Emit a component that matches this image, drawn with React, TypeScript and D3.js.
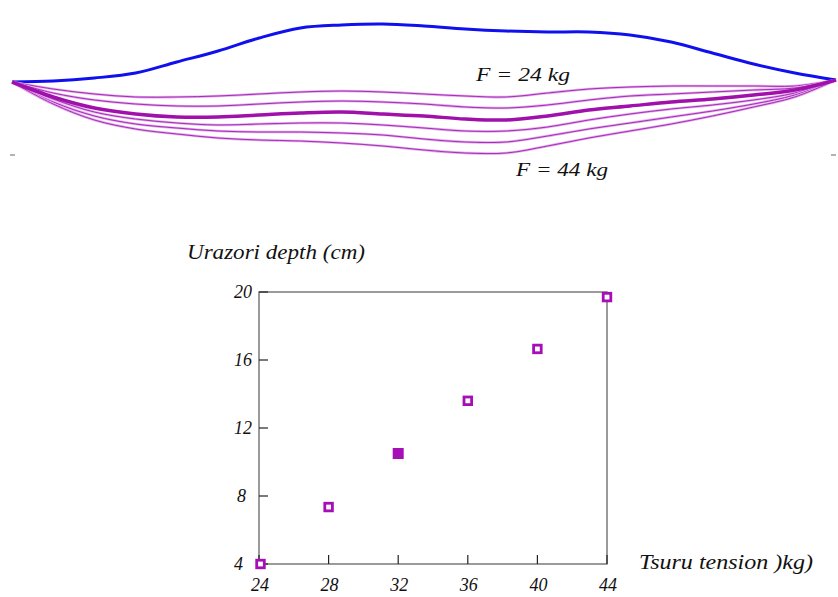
import React from 'react';
import * as d3 from 'd3';

// ---- Top panel: bow / string profiles (position along string in %, vertical position) ----
const stringPos = [0, 5, 10, 15, 20, 25, 30, 35, 40, 45, 50, 55, 60, 65, 70, 75, 80, 85, 90, 95, 100];
const bowProfile = [82, 81, 78, 73, 62, 51, 38, 28, 25, 24, 26, 29, 31, 32, 32, 35, 42, 53, 64, 73, 80];
const profileF24 = [82, 89, 94, 97, 97, 96, 94, 92, 91, 92, 94, 96, 97, 93, 89, 87, 86, 86, 86, 86, 80];
const profileF28 = [82, 93, 100, 104, 106, 106, 104, 102, 101, 102, 104, 107, 108, 105, 100, 96, 94, 92, 90, 88, 80];
const profileF32 = [82, 97, 108, 114, 117, 117, 115, 113, 112, 114, 116, 119, 120, 116, 110, 106, 102, 99, 95, 90, 80];
const profileF36 = [82, 99, 112, 119, 123, 125, 124, 123, 123, 125, 128, 131, 131, 127, 120, 114, 109, 105, 100, 93, 80];
const profileF40 = [82, 102, 116, 124, 128, 131, 132, 132, 133, 135, 139, 142, 142, 136, 129, 123, 117, 111, 104, 95, 80];
const profileF44 = [82, 104, 120, 129, 134, 138, 140, 141, 143, 146, 150, 153, 153, 146, 138, 131, 124, 116, 107, 97, 80];
const stringProfiles = [profileF24, profileF28, profileF32, profileF36, profileF40, profileF44];

// ---- Bottom panel: Urazori depth vs Tsuru tension ----
const tensions = [24, 28, 32, 36, 40, 44];
const urazoriDepth = [4.0, 7.35, 10.5, 13.6, 16.65, 19.7];
const highlightedTension = 32;
const xTickValues = [24, 28, 32, 36, 40, 44];
const yTickValues = [4, 8, 12, 16, 20];

const W = 838;
const H = 597;
const FONT = '"Liberation Serif", "DejaVu Serif", serif';
const MAGENTA = '#a50fb5';

export default function App() {
  // top panel scales
  const px = d3.scaleLinear().domain([0, 100]).range([12, 836]);
  const py = d3.scaleLinear().domain([0, 100]).range([0, 100]);
  const line = d3
    .line<number>()
    .x((_, i) => px(stringPos[i]))
    .y((d) => py(d))
    .curve(d3.curveCatmullRom.alpha(0.5));

  // scatter scales
  const x = d3.scaleLinear().domain([24, 44]).range([259, 607]);
  const y = d3.scaleLinear().domain([4, 20]).range([564, 292]);

  const thickIdx = tensions.indexOf(highlightedTension);

  return (
    <svg
      width={W}
      height={H}
      style={{ position: 'absolute', left: 0, top: 0, background: '#fff' }}
      fontFamily={FONT}
    >
      <rect x={0} y={0} width={W} height={H} fill="#fff" />
      {/* tiny side marks */}
      <line x1={10} x2={15} y1={155} y2={155} stroke="#666" strokeWidth={1} />
      <line x1={831} x2={836} y1={155} y2={155} stroke="#666" strokeWidth={1} />

      {/* bow */}
      <path d={line(bowProfile) || ''} fill="none" stroke="#1010ee" strokeWidth={3} />

      {/* string profiles */}
      {stringProfiles.map((p, i) =>
        i === thickIdx ? null : (
          <g key={i}>
            <path d={line(p) || ''} fill="none" stroke="#e6a8f0" strokeWidth={2.6} />
            <path d={line(p) || ''} fill="none" stroke="#a030b0" strokeWidth={1} />
          </g>
        )
      )}
      <path d={line(stringProfiles[thickIdx]) || ''} fill="none" stroke="#a010aa" strokeWidth={3.5} />

      <text x={476} y={81} fontSize={19} fontStyle="italic" fill="#111" textLength={94} lengthAdjust="spacingAndGlyphs">
        F = 24 kg
      </text>
      <text x={516} y={176} fontSize={19} fontStyle="italic" fill="#111" textLength={92} lengthAdjust="spacingAndGlyphs">
        F = 44 kg
      </text>

      {/* scatter frame */}
      <rect x={x(24)} y={y(20)} width={x(44) - x(24)} height={y(4) - y(20)} fill="none" stroke="#707070" strokeWidth={1.4} />
      {xTickValues.map((t) => (
        <g key={'xt' + t}>
          <line x1={x(t)} x2={x(t)} y1={y(4)} y2={y(4) - 9} stroke="#222" strokeWidth={1.2} />
          <text x={x(t) + 1} y={591} fontSize={18} fontStyle="italic" textAnchor="middle" fill="#111">
            {t}
          </text>
        </g>
      ))}
      {yTickValues.map((t) => (
        <g key={'yt' + t}>
          <line x1={x(24)} x2={x(24) + 9} y1={y(t)} y2={y(t)} stroke="#222" strokeWidth={1.2} />
          <text x={t === 8 ? 237 : 234} y={y(t) + 6} fontSize={18} fontStyle="italic" textAnchor="start" fill="#111">
            {t}
          </text>
        </g>
      ))}

      {/* points */}
      {tensions.map((t, i) =>
        t === highlightedTension ? (
          <rect key={'p' + t} x={x(t) - 5.5} y={y(urazoriDepth[i]) - 5.5} width={11} height={11} fill={MAGENTA} />
        ) : (
          <rect
            key={'p' + t}
            x={x(t) - 3.8 + (t === 24 ? 1.5 : 0)}
            y={y(urazoriDepth[i]) - 3.8}
            width={7.6}
            height={7.6}
            fill="#fff"
            stroke={MAGENTA}
            strokeWidth={2.8}
          />
        )
      )}

      <text x={187} y={259} fontSize={20} fontStyle="italic" fill="#111" textLength={178} lengthAdjust="spacingAndGlyphs">
        Urazori depth (cm)
      </text>
      <text x={639} y={569} fontSize={20} fontStyle="italic" fill="#111" textLength={174} lengthAdjust="spacingAndGlyphs">
        Tsuru tension )kg)
      </text>
    </svg>
  );
}
